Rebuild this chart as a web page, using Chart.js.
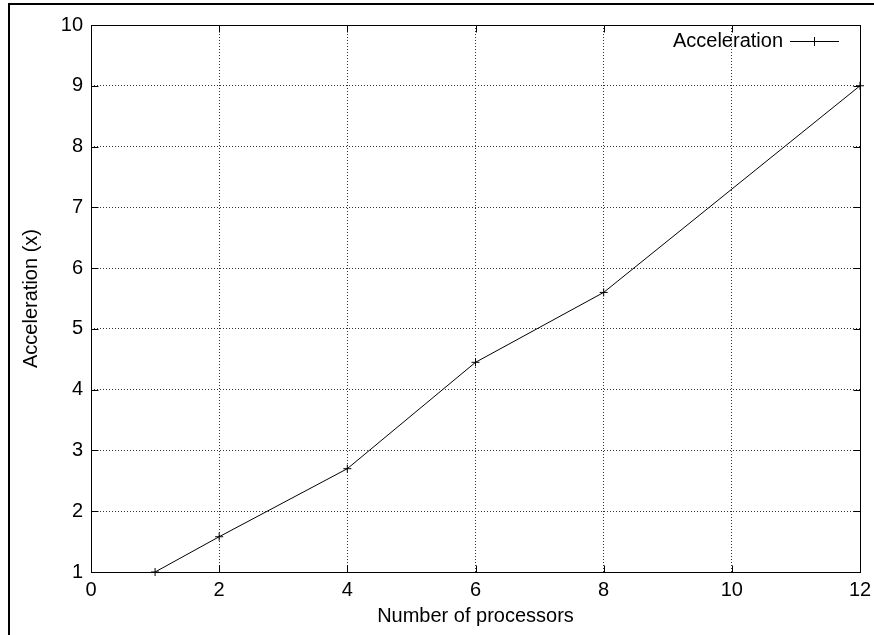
<!DOCTYPE html>
<html>
<head>
<meta charset="utf-8">
<script src="https://cdn.jsdelivr.net/npm/chart.js@4/dist/chart.umd.min.js"></script>
<style>
  html, body { margin: 0; padding: 0; background: #fff; }
  canvas { display: block; }
</style>
</head>
<body>
<canvas id="c" width="874" height="635"></canvas>
<script>
// ---- data ----
const processors = [1, 2, 4, 6, 8, 12];
const acceleration = [1, 1.58, 2.7, 4.45, 5.6, 9];
const seriesLabel = 'Acceleration';
const xTickValues = [0, 2, 4, 6, 8, 10, 12];
const yTickValues = [1, 2, 3, 4, 5, 6, 7, 8, 9, 10];
const xTitle = 'Number of processors';
const yTitle = 'Acceleration (x)';

const FONT = '"Liberation Sans", Arial, Helvetica, sans-serif';
const FS = 20;

const decor = {
  id: 'decor',
  beforeDraw(chart) {
    const ctx = chart.ctx;
    ctx.save();
    ctx.fillStyle = '#fff';
    ctx.fillRect(0, 0, chart.width, chart.height);
    // outer frame (left and top edges)
    ctx.fillStyle = '#000';
    ctx.fillRect(8, 3, chart.width - 8, 2);
    ctx.fillRect(8, 3, 2, chart.height - 3);
    ctx.restore();
  },
  afterDatasetsDraw(chart) {
    const ctx = chart.ctx;
    const a = chart.chartArea;
    const xs = chart.scales.x, ys = chart.scales.y;
    const T = 7;
    ctx.save();
    ctx.strokeStyle = '#000';
    ctx.lineWidth = 1;
    ctx.setLineDash([]);
    const L = Math.round(a.left) + 0.5, R = Math.round(a.right) + 0.5;
    const Tp = Math.round(a.top) + 0.5, B = Math.round(a.bottom) + 0.5;
    ctx.beginPath();
    xTickValues.forEach(v => {
      const p = Math.round(xs.getPixelForValue(v)) + 0.5;
      ctx.moveTo(p, B); ctx.lineTo(p, B - T);
      ctx.moveTo(p, Tp); ctx.lineTo(p, Tp + T);
    });
    yTickValues.forEach(v => {
      const p = Math.round(ys.getPixelForValue(v)) + 0.5;
      ctx.moveTo(L, p); ctx.lineTo(L + T, p);
      ctx.moveTo(R, p); ctx.lineTo(R - T, p);
    });
    ctx.stroke();
    ctx.strokeRect(L, Tp, R - L, B - Tp);
    ctx.restore();
  },
  afterDraw(chart) {
    const ctx = chart.ctx;
    const ds = chart.data.datasets[0];
    ctx.save();
    ctx.font = FS + 'px ' + FONT;
    ctx.fillStyle = '#000';
    ctx.textAlign = 'right';
    ctx.textBaseline = 'middle';
    ctx.fillText(ds.label, 783, 41);
    ctx.strokeStyle = '#000';
    ctx.lineWidth = 1;
    ctx.beginPath();
    ctx.moveTo(790, 41.5); ctx.lineTo(839, 41.5);
    ctx.moveTo(814.5, 37); ctx.lineTo(814.5, 46);
    ctx.stroke();
    ctx.restore();
  }
};

new Chart(document.getElementById('c'), {
  type: 'line',
  data: {
    datasets: [{
      label: seriesLabel,
      data: processors.map((x, i) => ({ x: x, y: acceleration[i] })),
      borderColor: '#000',
      backgroundColor: '#000',
      borderWidth: 1,
      tension: 0,
      fill: false,
      pointStyle: 'cross',
      pointRadius: 4,
      pointBorderWidth: 1,
      pointBorderColor: '#000',
      clip: false
    }]
  },
  options: {
    responsive: false,
    animation: false,
    devicePixelRatio: 1,
    layout: { padding: { left: 0, top: 25, right: 14, bottom: 0 } },
    plugins: {
      legend: { display: false },
      tooltip: { enabled: false }
    },
    scales: {
      x: {
        type: 'linear',
        min: 0, max: 12,
        afterBuildTicks: s => { s.ticks = xTickValues.map(v => ({ value: v })); },
        afterFit: s => { s.height = 63; s.paddingLeft = 0; s.paddingRight = 0; },
        grid: { color: '#333', lineWidth: 1, drawTicks: false },
        border: { display: false, dash: [1, 2] },
        ticks: { color: '#000', padding: 6, font: { family: FONT, size: FS }, maxRotation: 0, autoSkip: false },
        title: { display: true, text: xTitle, color: '#000', font: { family: FONT, size: FS }, padding: { top: 0, bottom: 7 } }
      },
      y: {
        type: 'linear',
        min: 1, max: 10,
        afterBuildTicks: s => { s.ticks = yTickValues.map(v => ({ value: v })); },
        afterFit: s => { s.width = 91; s.paddingTop = 0; s.paddingBottom = 0; },
        grid: { color: '#333', lineWidth: 1, drawTicks: false },
        border: { display: false, dash: [1, 2] },
        ticks: { color: '#000', padding: 8, font: { family: FONT, size: FS }, autoSkip: false },
        title: { display: true, text: yTitle, color: '#000', font: { family: FONT, size: FS }, padding: { top: 19, bottom: 0 } }
      }
    }
  },
  plugins: [decor]
});
</script>
</body>
</html>
